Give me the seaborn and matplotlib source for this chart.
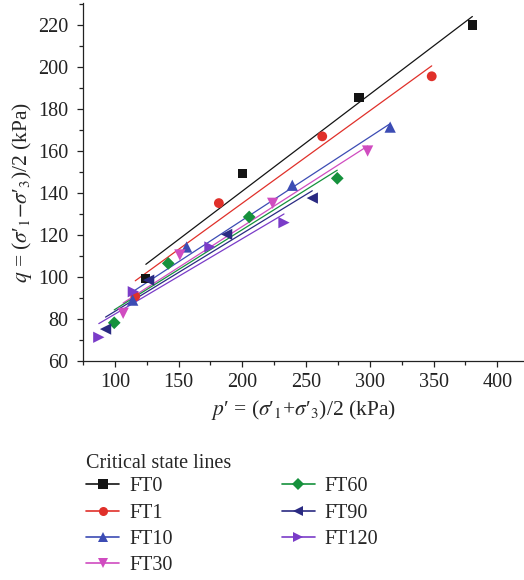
import numpy as np
import pandas as pd
import matplotlib
matplotlib.use("Agg")
import matplotlib.pyplot as plt
from matplotlib.lines import Line2D
from matplotlib.ticker import MultipleLocator
import seaborn as sns

# ---- data ----
series = ["FT0", "FT1", "FT10", "FT30", "FT60", "FT90", "FT120"]
p_FT0 = [124.3, 200.2, 291.5, 380.5]
q_FT0 = [99.4, 149.2, 185.6, 220.0]
p_FT1 = [116.0, 181.6, 262.7, 348.6]
q_FT1 = [90.8, 135.2, 167.0, 195.6]
p_FT10 = [114.0, 156.3, 239.2, 316.0]
q_FT10 = [89.0, 114.3, 143.7, 171.4]
p_FT30 = [106.5, 151.0, 223.8, 298.3]
q_FT30 = [82.7, 110.5, 135.1, 160.0]
p_FT60 = [99.5, 141.9, 205.4, 274.5]
q_FT60 = [78.2, 106.5, 128.6, 147.0]
p_FT90 = [92.7, 126.5, 187.7, 254.9]
q_FT90 = [75.2, 98.5, 120.3, 137.6]
p_FT120 = [87.4, 114.5, 174.6, 232.7]
q_FT120 = [71.3, 93.0, 114.3, 125.9]

p_vals = [p_FT0, p_FT1, p_FT10, p_FT30, p_FT60, p_FT90, p_FT120]
q_vals = [q_FT0, q_FT1, q_FT10, q_FT30, q_FT60, q_FT90, q_FT120]

colors = ["#141414", "#e0302a", "#3c4cb4", "#d04cc0", "#15913c", "#2a2a82", "#7a3cc8"]
markers = ["s", "o", "^", "v", "D", "<", ">"]
msizes = [44, 50, 66, 66, 42, 66, 66]

rows = []
for name, ps, qs in zip(series, p_vals, q_vals):
    for p, q in zip(ps, qs):
        rows.append({"series": name, "p": p, "q": q})
df = pd.DataFrame(rows)

sns.set_theme(style="ticks")
plt.rcParams["font.family"] = ["Liberation Serif", "DejaVu Serif"]
plt.rcParams["mathtext.fontset"] = "stix"

fig = plt.figure(figsize=(5.24, 5.8), dpi=100)
ax = fig.add_axes([83 / 524, (580 - 361) / 580, 441 / 524, 358 / 580])

for name, c in zip(series, colors):
    sub = df[df["series"] == name]
    sns.regplot(data=sub, x="p", y="q", ax=ax, ci=None, scatter=False,
                truncate=True, line_kws={"color": c, "lw": 0.9})
for name, c, m, s in zip(series, colors, markers, msizes):
    sub = df[df["series"] == name]
    sns.scatterplot(data=sub, x="p", y="q", ax=ax, color=c, marker=m, s=s,
                    edgecolor="none", legend=False, zorder=3)

ax.set_xlim(75, 421)
ax.set_ylim(60, 230.5)
ax.xaxis.set_major_locator(MultipleLocator(50))
ax.xaxis.set_minor_locator(MultipleLocator(25))
ax.yaxis.set_major_locator(MultipleLocator(20))
ax.yaxis.set_minor_locator(MultipleLocator(10))
ax.tick_params(which="major", length=4.3, width=0.9, labelsize=14.5, colors="#222222")
ax.tick_params(which="minor", length=2.6, width=0.9, colors="#222222")
ax.tick_params(axis="x", which="major", pad=4.5)
ax.tick_params(axis="y", which="major", pad=6.3)
sns.despine(ax=ax)
for sp in ["left", "bottom"]:
    ax.spines[sp].set_linewidth(0.9)
    ax.spines[sp].set_color("#222222")

ax.set_xlabel(r"$p$′ = ($\sigma$′$_1$+$\sigma$′$_3$)/2 (kPa)", fontsize=15.5)
ax.set_ylabel(r"$q$ = ($\sigma$′$_1$$-$$\sigma$′$_3$)/2 (kPa)", fontsize=15.5)
ax.xaxis.set_label_coords((303 - 83) / 441, (361 - 410) / 358)
ax.xaxis.label.set_va("center")
ax.yaxis.set_label_coords((22 - 83) / 441, (361 - 192) / 358)
ax.yaxis.label.set_va("center")

handles = [Line2D([0], [0], color=c, marker=m, lw=1.2, markersize=6.5, markeredgewidth=0)
           for c, m in zip(colors, markers)]
leg = fig.legend(handles, series, title="Critical state lines", ncol=2,
                 loc="upper left", bbox_to_anchor=(76 / 524, 1 - 444 / 580),
                 frameon=False, fontsize=14.5, title_fontsize=14.5,
                 handlelength=1.65, handletextpad=0.5, columnspacing=5.4,
                 labelspacing=0.36, alignment="left", borderpad=0)
leg._legend_box.sep = 3

fig.savefig("out.png", dpi=100)
